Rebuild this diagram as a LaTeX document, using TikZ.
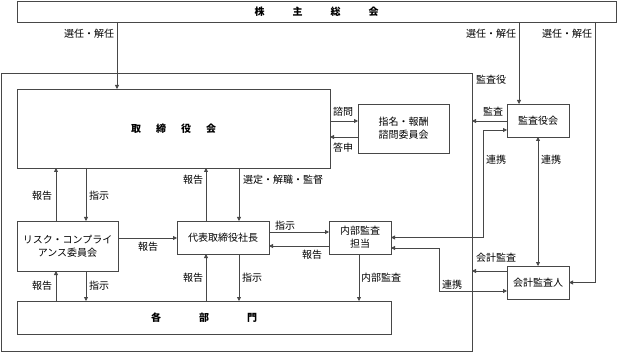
\documentclass[tikz,border=0pt]{standalone}
\usepackage{fontspec}
\newfontfamily\jp{Noto Sans CJK JP}
\usetikzlibrary{arrows.meta,calc}
\definecolor{ln}{HTML}{474747}
\tikzset{
  every node/.style={font=\jp\fontsize{10}{13}\selectfont, text=black},
  box/.style={draw=ln, line width=0.8pt, inner sep=0pt, outer sep=0pt, align=center, fill=white},
  ttl/.style={font=\jp\bfseries\fontsize{10}{13}\selectfont},
  arr/.style={draw=ln, line width=0.8pt, -{Triangle[length=4pt,width=4pt]}},
  arrb/.style={draw=ln, line width=0.8pt, {Triangle[length=4pt,width=4pt]}-{Triangle[length=4pt,width=4pt]}},
  lbl/.style={inner sep=0pt}
}
\begin{document}
\begin{tikzpicture}[x=1pt,y=-1pt]
\useasboundingbox (0,0) rectangle (617,352);
% frame
\node[box, fill=none, minimum width=471pt, minimum height=278pt] (frame) at (236.5,212) {};
\node[lbl] (fl) at (491,80) {監査役};
% boxes
\node[box, ttl, minimum width=599pt, minimum height=21pt] (gm) at (316.5,11.5) {株\hspace{2.8em}主\hspace{2.8em}総\hspace{2.8em}会};
\node[box, ttl, minimum width=313pt, minimum height=79pt] (board) at (173.5,128.5) {取\hspace{1.5em}締\hspace{1.5em}役\hspace{1.5em}会};
\node[box, minimum width=91pt, minimum height=49pt] (nom) at (403.5,128.5) {指名・報酬\\諮問委員会};
\node[box, minimum width=62pt, minimum height=33pt] (kansa) at (538,120.5) {監査役会};
\node[box, minimum width=62pt, minimum height=33pt] (kaikei) at (538,282.5) {会計監査人};
\node[box, minimum width=62pt, minimum height=33pt] (naibu) at (360,237.5) {内部監査\\担当};
\node[box, minimum width=92pt, minimum height=33pt] (ceo) at (223,237.5) {代表取締役社長};
\node[box, minimum width=101pt, minimum height=50pt] (risk) at (67.5,246) {リスク・コンプライ\\アンス委員会};
\node[box, ttl, minimum width=374pt, minimum height=33pt] (dept) at (204,317.5) {各\hspace{3.8em}部\hspace{3.8em}門};
% helper coordinates
\coordinate (x56) at (56,0);
\coordinate (x86) at (86,0);
\coordinate (x117) at (117,0);
\coordinate (x206) at (206,0);
\coordinate (x239) at (239,0);
\coordinate (x359) at (359,0);
\coordinate (x519) at (519,0);
\coordinate (x595) at (595,0);
\coordinate (y121) at (0,121);
\coordinate (y137) at (0,137);
\coordinate (y232) at (0,232);
\coordinate (y246) at (0,246);
\coordinate (y238) at (0,238);
\coordinate (y271) at (0,271);
\coordinate (p1) at (483,130);
\coordinate (p2) at (439,248);
\coordinate (y291) at (0,291);
% shareholders
\draw[arr] (gm.south -| x117) -- (board.north -| x117);
\node[lbl] (l1) at (89,34) {選任・解任};
\draw[arr] (gm.south -| x519) -- (kansa.north -| x519);
\node[lbl] (l2) at (491,34) {選任・解任};
\draw[arr] (gm.south -| x595) |- (kaikei.east);
\node[lbl] (l3) at (567,34) {選任・解任};
% board <-> nom
\draw[arr] (board.east |- y121) -- (nom.west |- y121);
\node[lbl] (l4) at (343,112) {諮問};
\draw[arr] (nom.west |- y137) -- (board.east |- y137);
\node[lbl] (l5) at (343,148) {答申};
% kansa
\draw[arr] (kansa.west |- y121) -- (frame.east |- y121);
\node[lbl] (l6) at (493,112) {監査};
\draw[arrb] (kansa.west |- p1) -- (p1) |- (naibu.east);
\node[lbl] (l7) at (496,160) {連携};
\draw[arrb] (kansa.south) -- (kaikei.north);
\node[lbl] (l8) at (551,160) {連携};
% kaikei
\draw[arr] (kaikei.west |- y271) -- (frame.east |- y271);
\node[lbl] (l9) at (496,258) {会計監査};
\draw[arrb] (naibu.east |- p2) -- (p2) |- (kaikei.west |- y291);
\node[lbl] (l10) at (452,285) {連携};
% naibu -> dept
\draw[arr] (naibu.south -| x359) -- (dept.north -| x359);
\node[lbl] (l11) at (381,278) {内部監査};
% ceo <-> naibu
\draw[arr] (ceo.east |- y232) -- (naibu.west |- y232);
\node[lbl] (l12) at (285,226) {指示};
\draw[arr] (naibu.west |- y246) -- (ceo.east |- y246);
\node[lbl] (l13) at (312,255) {報告};
% risk -> ceo
\draw[arr] (risk.east |- y238) -- (ceo.west |- y238);
\node[lbl] (l14) at (148,247) {報告};
% board <-> risk
\draw[arr] (risk.north -| x56) -- (board.south -| x56);
\node[lbl] (l15) at (42,196) {報告};
\draw[arr] (board.south -| x86) -- (risk.north -| x86);
\node[lbl] (l16) at (99,196) {指示};
% risk <-> dept
\draw[arr] (dept.north -| x56) -- (risk.south -| x56);
\node[lbl] (l17) at (42,286) {報告};
\draw[arr] (risk.south -| x86) -- (dept.north -| x86);
\node[lbl] (l18) at (99,286) {指示};
% board <-> ceo
\draw[arr] (ceo.north -| x206) -- (board.south -| x206);
\node[lbl] (l19) at (193,180) {報告};
\draw[arr] (board.south -| x239) -- (ceo.north -| x239);
\node[lbl, anchor=west] (l20) at (243,180) {選定・解職・監督};
% ceo <-> dept
\draw[arr] (dept.north -| x206) -- (ceo.south -| x206);
\node[lbl] (l21) at (193,278) {報告};
\draw[arr] (ceo.south -| x239) -- (dept.north -| x239);
\node[lbl] (l22) at (252,278) {指示};
\end{tikzpicture}
\end{document}
